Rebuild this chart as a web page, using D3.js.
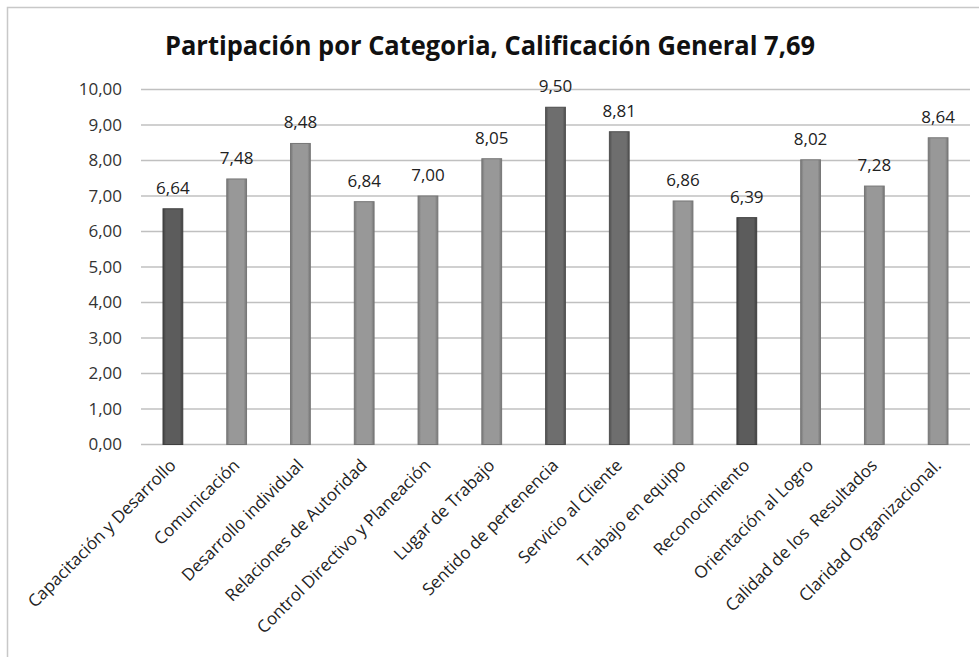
<!DOCTYPE html>
<html>
<head>
<meta charset="utf-8">
<script src="https://cdn.jsdelivr.net/npm/d3@7"></script>
<style>
  body { margin: 0; background: #fff; }
  svg { display: block; font-family: "Open Sans", sans-serif; }
  text { white-space: pre; }
</style>
</head>
<body>
<svg width="979" height="657"></svg>
<script>
var categories = ["Capacitación y Desarrollo", "Comunicación", "Desarrollo individual",
  "Relaciones de Autoridad", "Control Directivo y Planeación", "Lugar de Trabajo",
  "Sentido de pertenencia", "Servicio al Cliente", "Trabajo en equipo",
  "Reconocimiento", "Orientación al Logro", "Calidad de los  Resultados",
  "Claridad Organizacional."];
var values = [6.64, 7.48, 8.48, 6.84, 7.00, 8.05, 9.50, 8.81, 6.86, 6.39, 8.02, 7.28, 8.64];
var shades = ["dark", "light", "light", "light", "light", "light", "mid", "mid",
  "light", "dark", "light", "light", "light"];
var yTicks = [0, 1, 2, 3, 4, 5, 6, 7, 8, 9, 10];
var title = "Partipación por Categoria, Calificación General 7,69";

var svg = d3.select("svg"),
    width = +svg.attr("width"),
    height = +svg.attr("height");

var fmt = function(v){ return v.toFixed(2).replace(".", ","); };

var palette = {
  dark:  {fill: "#5c5c5c", edge: "#3f3f3f"},
  mid:   {fill: "#6e6e6e", edge: "#4e4e4e"},
  light: {fill: "#989898", edge: "#767676"}
};

// outer frame
svg.append("rect")
  .attr("x", 7.5).attr("y", 7.5)
  .attr("width", width).attr("height", height)
  .attr("fill", "none").attr("stroke", "#c8c8c8").attr("stroke-width", 1.5);

var defs = svg.append("defs");
Object.keys(palette).forEach(function(k){
  var g = defs.append("linearGradient").attr("id", "g-" + k)
    .attr("x1", "0").attr("x2", "1").attr("y1", "0").attr("y2", "0");
  g.append("stop").attr("offset", "0").attr("stop-color", palette[k].edge);
  g.append("stop").attr("offset", "0.15").attr("stop-color", palette[k].fill);
  g.append("stop").attr("offset", "0.85").attr("stop-color", palette[k].fill);
  g.append("stop").attr("offset", "1").attr("stop-color", palette[k].edge);
});

var x = d3.scaleBand().domain(categories).range([141, 970]).paddingInner(0.69).paddingOuter(0.345);
var y = d3.scaleLinear().domain([0, 10]).range([444.5, 89.5]);

// gridlines
svg.append("g").selectAll("line").data(yTicks).join("line")
  .attr("x1", 141).attr("x2", 970)
  .attr("y1", function(d){ return y(d); }).attr("y2", function(d){ return y(d); })
  .attr("stroke", "#c0c0c0").attr("stroke-width", 1.5);

// y axis labels
var yAxis = svg.append("g").attr("transform", "translate(122,0)")
  .call(d3.axisLeft(y).tickValues(yTicks).tickFormat(fmt).tickSize(0).tickPadding(0));
yAxis.select(".domain").remove();
yAxis.selectAll("text").attr("font-size", 17).attr("fill", "#333")
  .attr("font-family", "'Open Sans', sans-serif");

// bars
svg.append("g").selectAll("rect").data(values).join("rect")
  .attr("x", function(d, i){ return x(categories[i]); })
  .attr("width", x.bandwidth())
  .attr("y", function(d){ return y(d); })
  .attr("height", function(d){ return y(0) - y(d); })
  .attr("fill", function(d, i){ return "url(#g-" + shades[i] + ")"; })
  .attr("stroke", function(d, i){ return palette[shades[i]].edge; })
  .attr("stroke-width", 1);

// value labels
svg.append("g").selectAll("text").data(values).join("text")
  .attr("x", function(d, i){ return x(categories[i]) + x.bandwidth() / 2; })
  .attr("y", function(d){ return y(d) - 15; })
  .attr("text-anchor", "middle")
  .attr("font-size", 17).attr("fill", "#222")
  .text(fmt);

// category labels
var xAxis = svg.append("g").attr("transform", "translate(0," + y(0) + ")")
  .call(d3.axisBottom(x).tickSize(0).tickPadding(0));
xAxis.select(".domain").remove();
xAxis.selectAll("text")
  .attr("font-size", 17).attr("fill", "#222")
  .attr("font-family", "'Open Sans', sans-serif")
  .attr("text-anchor", "end")
  .attr("dy", null)
  .attr("transform", "translate(4,22) rotate(-45)")
  .attr("y", 0).attr("x", 0);

// title
svg.append("text")
  .attr("x", 490).attr("y", 55)
  .attr("text-anchor", "middle")
  .attr("font-size", 27).attr("font-weight", "bold").attr("fill", "#111")
  .attr("textLength", 650).attr("lengthAdjust", "spacingAndGlyphs")
  .text(title);
</script>
</body>
</html>
